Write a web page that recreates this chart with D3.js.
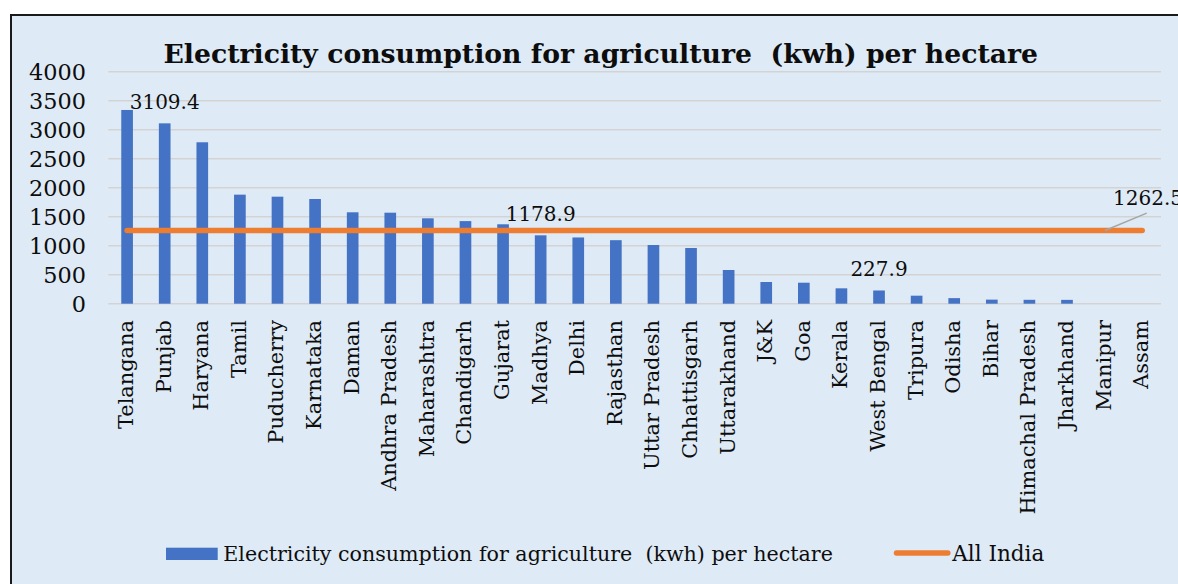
<!DOCTYPE html>
<html>
<head>
<meta charset="utf-8">
<script src="https://cdn.jsdelivr.net/npm/d3@7"></script>
<style>
  html, body { margin: 0; padding: 0; background: #fff; }
  svg { display: block; }
  text { font-family: "DejaVu Serif", "Liberation Serif", serif; fill: #0d0d0d; white-space: pre; }
</style>
</head>
<body>
<svg id="chart" width="1178" height="584"></svg>
<script>
// Agricultural electricity use per hectare, by state (kWh/ha)
const states = [
  "Telangana", "Punjab", "Haryana", "Tamil", "Puducherry", "Karnataka", "Daman",
  "Andhra Pradesh", "Maharashtra", "Chandigarh", "Gujarat", "Madhya", "Delhi",
  "Rajasthan", "Uttar Pradesh", "Chhattisgarh", "Uttarakhand", "J&K", "Goa",
  "Kerala", "West Bengal", "Tripura", "Odisha", "Bihar", "Himachal Pradesh",
  "Jharkhand", "Manipur", "Assam"
];
const consumption = [
  3340, 3109.4, 2783, 1880, 1845, 1805, 1576,
  1569, 1472, 1424, 1369, 1178.9, 1142,
  1095, 1012, 960, 581, 374, 362,
  265, 227.9, 138, 96, 70, 67,
  66, 0, 0
];
// National average, drawn as a flat line across all states
const allIndia = 1262.5;
// States whose bar carries a value label
const labelledStates = ["Punjab", "Madhya", "West Bengal"];
const yTicks = [0, 500, 1000, 1500, 2000, 2500, 3000, 3500, 4000];

const titleText = "Electricity consumption for agriculture  (kwh) per hectare";
const barSeriesName = "Electricity consumption for agriculture  (kwh) per hectare";
const lineSeriesName = "All India";

const svg = d3.select("#chart");

// Fit a text element to a target rendered width by scaling its font size
function fitWidth(sel, target) {
  const node = sel.node();
  const w = node.getComputedTextLength();
  const fs = parseFloat(sel.attr("font-size"));
  return fs * target / w;
}

// Chart area
svg.append("rect")
  .attr("x", 11).attr("y", 15)
  .attr("width", 1180).attr("height", 580)
  .attr("fill", "#deeaf6")
  .attr("stroke", "#1a1a1a").attr("stroke-width", 2);

const plot = { left: 108.3, right: 1161, top: 71.7, bottom: 303.7 };

const x = d3.scaleBand()
  .domain(states)
  .range([plot.left, plot.right])
  .paddingInner(0.69)
  .paddingOuter(0.345);

const y = d3.scaleLinear()
  .domain([0, 4000])
  .range([plot.bottom, plot.top]);

const cx = d => x(d) + x.bandwidth() / 2;

// Horizontal gridlines
svg.append("g")
  .selectAll("line")
  .data(yTicks)
  .join("line")
  .attr("x1", plot.left).attr("x2", plot.right)
  .attr("y1", d => y(d)).attr("y2", d => y(d))
  .attr("stroke", "#d3d3d3").attr("stroke-width", 1.6);

// Y axis labels
const yAxis = svg.append("g")
  .attr("transform", `translate(86,0)`)
  .call(d3.axisLeft(y).tickValues(yTicks).tickSize(0).tickPadding(0).tickFormat(d3.format("d")));
yAxis.select(".domain").remove();
yAxis.selectAll("text")
  .attr("font-family", null)
  .attr("dy", null)
  .attr("y", 7.5)
  .attr("font-size", 20);
{
  const t = yAxis.selectAll("text").filter(d => d === 4000);
  const fs = fitWidth(t, 57);
  yAxis.attr("font-size", null);
  yAxis.selectAll("text").attr("font-size", fs);
}
yAxis.attr("font-family", null);

// Bars
svg.append("g")
  .selectAll("rect")
  .data(states.map((s, i) => ({ s, v: consumption[i] })))
  .join("rect")
  .attr("x", d => x(d.s))
  .attr("width", x.bandwidth())
  .attr("y", d => y(d.v))
  .attr("height", d => y(0) - y(d.v))
  .attr("fill", "#4472c4");

// All India line
const linePath = d3.line().x(d => cx(d)).y(() => y(allIndia));
svg.append("path")
  .attr("d", linePath(states))
  .attr("fill", "none")
  .attr("stroke", "#ed7d31")
  .attr("stroke-width", 5.5)
  .attr("stroke-linecap", "round");

// Category labels, rotated
const catG = svg.append("g");
const catLabels = catG.selectAll("text")
  .data(states)
  .join("text")
  .attr("transform", d => `translate(${cx(d) + 6},320) rotate(-90)`)
  .attr("text-anchor", "end")
  .attr("font-size", 20)
  .text(d => d);
{
  const fs = fitWidth(catLabels.filter(d => d === "Andhra Pradesh"), 171);
  catLabels.attr("font-size", fs);
}

// Value labels above selected bars
const valueLabels = svg.append("g")
  .selectAll("text")
  .data(labelledStates)
  .join("text")
  .attr("x", d => cx(d))
  .attr("y", d => y(consumption[states.indexOf(d)]) - 14)
  .attr("text-anchor", "middle")
  .attr("font-size", 20)
  .text(d => d3.format(".1f")(consumption[states.indexOf(d)]));
{
  const fs = fitWidth(valueLabels.filter(d => d === "Punjab"), 70);
  valueLabels.attr("font-size", fs);
}

// Label for the national line, with leader
const lineLabelX = 1113;
svg.append("line")
  .attr("x1", 1105).attr("y1", y(allIndia))
  .attr("x2", 1146.7).attr("y2", y(allIndia) - 17.4)
  .attr("stroke", "#a6a6a6").attr("stroke-width", 1.5);
svg.append("text")
  .attr("x", lineLabelX)
  .attr("y", y(allIndia) - 25)
  .attr("font-size", valueLabels.attr("font-size"))
  .text(d3.format(".1f")(allIndia));

// Title
const title = svg.append("text")
  .attr("x", 600.8).attr("y", 62.5)
  .attr("text-anchor", "middle")
  .attr("font-weight", "bold")
  .attr("font-size", 26)
  .text(titleText);
title.attr("font-size", fitWidth(title, 875));

// Legend
const legend = svg.append("g");
legend.append("rect")
  .attr("x", 166).attr("y", 547.7)
  .attr("width", 51.7).attr("height", 12.3)
  .attr("fill", "#4472c4");
const legText1 = legend.append("text")
  .attr("x", 223.3).attr("y", 560.7)
  .attr("font-size", 20)
  .text(barSeriesName);
legText1.attr("font-size", fitWidth(legText1, 610));
legend.append("line")
  .attr("x1", 896.5).attr("x2", 947.8)
  .attr("y1", 553).attr("y2", 553)
  .attr("stroke", "#ed7d31").attr("stroke-width", 5.5)
  .attr("stroke-linecap", "round");
const legText2 = legend.append("text")
  .attr("x", 952.3).attr("y", 560.7)
  .attr("font-size", 20)
  .text(lineSeriesName);
legText2.attr("font-size", fitWidth(legText2, 92));
</script>
</body>
</html>
